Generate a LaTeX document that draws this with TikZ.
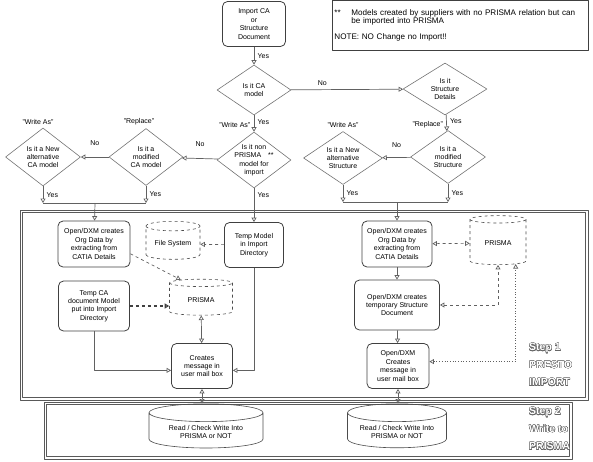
\documentclass[tikz,border=0pt]{standalone}
\usepackage{fontspec}
\setmainfont{Liberation Sans}
\usepackage{contour}
\usetikzlibrary{shapes.geometric,arrows.meta,positioning}
\contourlength{0.35pt}
\newcommand\flowfont{\fontsize{7}{8.4}\selectfont}
\newcommand\notefont{\fontsize{8.1}{8.6}\selectfont}
\newcommand\stepfont{\fontsize{10.5}{17.5}\selectfont\bfseries}
\newcommand\hollow[1]{\contour{black!60}{#1}}
\tikzset{
	ln/.style={draw=black!62, line width=0.7pt},
	tip/.style={-{Triangle[open,length=4.5pt,width=5pt]}},
	tips/.style={{Triangle[open,length=4.5pt,width=5pt]}-{Triangle[open,length=4.5pt,width=5pt]}},
	proc/.style={draw=black!75, line width=0.8pt, rounded corners=5pt, align=center, inner sep=1pt},
	dec/.style={diamond, draw=black!55, line width=0.6pt, inner sep=0pt},
	dtxt/.style={label={[align=center,inner sep=0pt]center:#1}},
	db/.style={cylinder, shape border rotate=90, aspect=0.22, draw=black!70, line width=0.6pt, dashed, align=center},
	stepframe/.style={draw=black!65, line width=0.6pt}
}
\begin{document}
\begin{tikzpicture}[x=1pt, y=-1pt, line join=round, every node/.style={font=\flowfont}]
	\useasboundingbox (0,0) rectangle (593,461);
	% step frames, two lines each
	\foreach \i in {0,2.3}{
		\draw[stepframe] (20+\i,210+\i) rectangle (588-\i,400-\i);
		\draw[stepframe] (44+\i,402+\i) rectangle (572-\i,459-\i);
	}
	% note
	\node[draw=black!75, line width=0.8pt, anchor=north west, minimum width=256pt, minimum height=50pt,
		text width=252pt, align=left, inner xsep=2pt, font=\notefont] (note) at (332,0)
		{\mbox{\makebox[17pt][l]{**}Models created by suppliers with no PRISMA relation but can}\\
		\hspace*{17pt}be imported into PRISMA\\[7pt]
		NOTE: NO Change no Import!!};
	% decisions
	\node[proc, minimum width=63pt, minimum height=45pt] (imp) at (254,24) {Import CA\\or\\Structure\\Document};
	\node[dec, minimum width=74pt, minimum height=50pt, dtxt={Is it CA\\model}] (ca) at (254,90) {};
	\node[dec, minimum width=84pt, minimum height=52pt, dtxt={Is it\\Structure\\Details}] (sd) at (445,89) {};
	\node[dec, minimum width=74pt, minimum height=56pt, dtxt={Is it non\\PRISMA\quad **\\model for\\import}] (np) at (254,160) {};
	\node[dec, minimum width=74pt, minimum height=57pt, dtxt={Is it a\\modified\\CA model},
		label={[xshift=-7pt]above:"Replace"}] (mca) at (146,157) {};
	\node[dec, minimum width=75pt, minimum height=58pt, dtxt={Is it a New\\alternative\\CA model},
		label={[xshift=-5pt]above:"Write As"}] (nca) at (43,157) {};
	\node[dec, minimum width=79pt, minimum height=53pt, dtxt={Is it a New\\alternative\\Structure},
		label={above:"Write As"}] (nst) at (343,158) {};
	\node[dec, minimum width=75pt, minimum height=53pt, dtxt={Is it a\\modified\\Structure}] (mst) at (448,157) {};
	\path (95,203) coordinate (jl) (397,202) coordinate (jr);
	% step 1, CA side
	\node[proc, minimum width=72pt, minimum height=46pt] (dxl) at (94,244) {Open/DXM creates\\Org Data by\\extracting from\\CATIA Details};
	\node[proc, minimum width=71pt, minimum height=50pt] (tca) at (94,306) {Temp CA\\document Model\\put into Import\\Directory};
	\node[proc, minimum width=59pt, minimum height=45pt] (tmp) at (254,245) {Temp Model\\in Import\\Directory};
	\node[db, minimum width=54pt, minimum height=38pt] (fs) at (173,244) {File System};
	\node[db, minimum width=63pt, minimum height=36pt] (prl) at (201,300) {PRISMA};
	\node[proc, minimum width=61pt, minimum height=45pt] (msgl) at (202,366) {Creates\\message in\\user mail box};
	% step 1, structure side
	\node[proc, minimum width=70pt, minimum height=46pt] (dxr) at (397,244) {Open/DXM creates\\Org Data by\\extracting from\\CATIA Details};
	\node[proc, minimum width=85pt, minimum height=50pt] (tsd) at (397,305) {Open/DXM creates\\temporary Structure\\Document};
	\node[proc, minimum width=62pt, minimum height=45pt] (msgr) at (398,366) {Open/DXM\\Creates\\message in\\user mail box};
	\node[db, minimum width=56pt, minimum height=49pt] (prr) at (498,243) {PRISMA};
	% step 2
	\node[db, solid, minimum width=114pt, minimum height=40pt] (rcl) at (206,432) {Read / Check Write Into\\PRISMA or NOT};
	\node[db, solid, minimum width=99pt, minimum height=40pt] (rcr) at (397,432) {Read / Check Write Into\\PRISMA or NOT};
	\node[anchor=west, align=left, font=\stepfont, text=white, inner sep=0pt] (st1) at (529,365)
		{\hollow{Step 1}\\\hollow{PRESTO}\\\hollow{IMPORT}};
	\node[anchor=west, align=left, font=\stepfont, text=white, inner sep=0pt] (st2) at (529,429)
		{\hollow{Step 2}\\\hollow{Write to}\\\hollow{PRISMA}};
	% connectors
	\draw[ln,tip] (imp) -- node[right]{Yes} (ca);
	\draw[ln,tip] (ca) -- node[above,pos=0.28]{No} (sd);
	\draw[ln,tip] (ca) -- node[right,pos=0.4]{Yes} node[left,pos=0.6]{"Write As"} (np);
	\draw[ln,tip] (sd) -- node[right,pos=0.4]{Yes} node[left,pos=0.6]{"Replace"} (mst);
	\draw[ln,tip] (np) -- node[above=8pt]{No} (mca);
	\draw[ln,tip] (mca) -- node[above=8pt]{No} (nca);
	\draw[ln,tip] (mst) -- node[above=6pt]{No} (nst);
	\draw[ln,tip] (np) -- node[right,pos=0.2]{Yes} (tmp);
	\foreach \d/\j in {nca/jl, mca/jl, nst/jr, mst/jr}
		\draw[ln,tip] (\d) -- node[right]{Yes} (\d |- \j);
	\draw[ln] (nca |- jl) -- (mca |- jl);
	\draw[ln] (nst |- jr) -- (mst |- jr);
	\draw[ln,tip] (jl) -- (dxl);
	\draw[ln,tip] (jr) -- (dxr);
	\draw[ln,dashed,tip] (tmp) -- (fs);
	\draw[ln,dashed,tip] (dxl.-15) -- (prl.north west);
	\draw[ln,dashed,line width=1.1pt,draw=black!75,tip] (tca) -- (tca -| prl.west);
	\draw[ln,tips] (prl) -- (msgl);
	\draw[ln,tip] (tca.south) |- (msgl.188);
	\draw[ln,tip] (tmp.south) |- (msgl.-8);
	\draw[ln,tip] (dxr) -- (tsd);
	\draw[ln,tip] (tsd) -- (msgr);
	\draw[ln,dashed,tips] (dxr) -- (prr);
	\draw[ln,dashed,tips] (tsd) -| (prr.south);
	\draw[ln,dotted,tips] (msgr.8) -| (prr.-50);
	\draw[ln,tips] (msgl) -- (msgl |- rcl.north);
	\draw[ln,tips] (msgr) -- (msgr |- rcr.north);
\end{tikzpicture}
\end{document}
